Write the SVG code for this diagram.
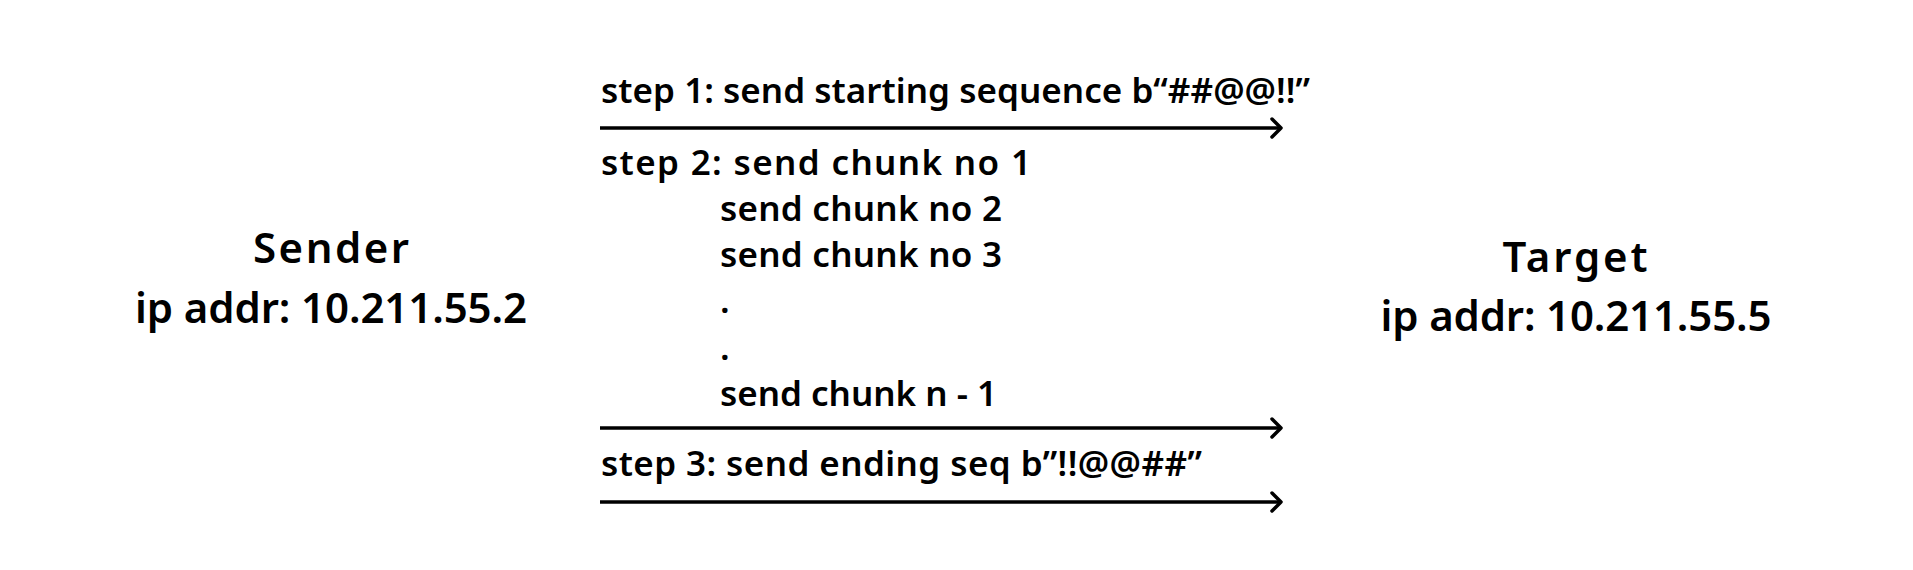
<svg xmlns="http://www.w3.org/2000/svg" width="1913" height="570" viewBox="0 0 1913 570">
<style>
  text { font-family: "Noto Sans", "Open Sans", sans-serif; fill: #000; }
  .step { font-size: 35px; font-weight: 600; }
  .node { font-size: 42px; font-weight: 600; text-anchor: middle; }
  .conn { stroke: #000; stroke-width: 3.5; fill: none; }
  .head { stroke: #000; stroke-width: 3.5; fill: none; stroke-linecap: round; stroke-linejoin: round; }
</style>
<rect width="1913" height="570" fill="#fff"/>
<g id="sender">
  <text class="node" x="331" y="263" textLength="156">Sender</text>
  <text class="node" x="331" y="323" textLength="392">ip addr: 10.211.55.2</text>
</g>
<g id="target">
  <text class="node" x="1575" y="272" textLength="145">Target</text>
  <text class="node" x="1576" y="331" textLength="391">ip addr: 10.211.55.5</text>
</g>
<g id="labels">
  <text class="step" x="601" y="103" textLength="709">step 1: send starting sequence b“##@@!!”</text>
  <text class="step" x="601" y="175" textLength="430">step 2: send chunk no 1</text>
  <text class="step" x="720" y="221" textLength="282">send chunk no 2</text>
  <text class="step" x="720" y="267" textLength="282">send chunk no 3</text>
  <text class="step" x="720" y="313">.</text>
  <text class="step" x="720" y="360">.</text>
  <text class="step" x="720" y="406" textLength="277">send chunk n - 1</text>
  <text class="step" x="601" y="476" textLength="601">step 3: send ending seq b”!!@@##”</text>
</g>
<g id="connectors">
  <line class="conn" x1="600" y1="128" x2="1281" y2="128"/>
  <polyline class="head" points="1272,119 1281,128 1272,137"/>
  <line class="conn" x1="600" y1="428" x2="1281" y2="428"/>
  <polyline class="head" points="1272,419 1281,428 1272,437"/>
  <line class="conn" x1="600" y1="502" x2="1281" y2="502"/>
  <polyline class="head" points="1272,493 1281,502 1272,511"/>
</g>
</svg>
